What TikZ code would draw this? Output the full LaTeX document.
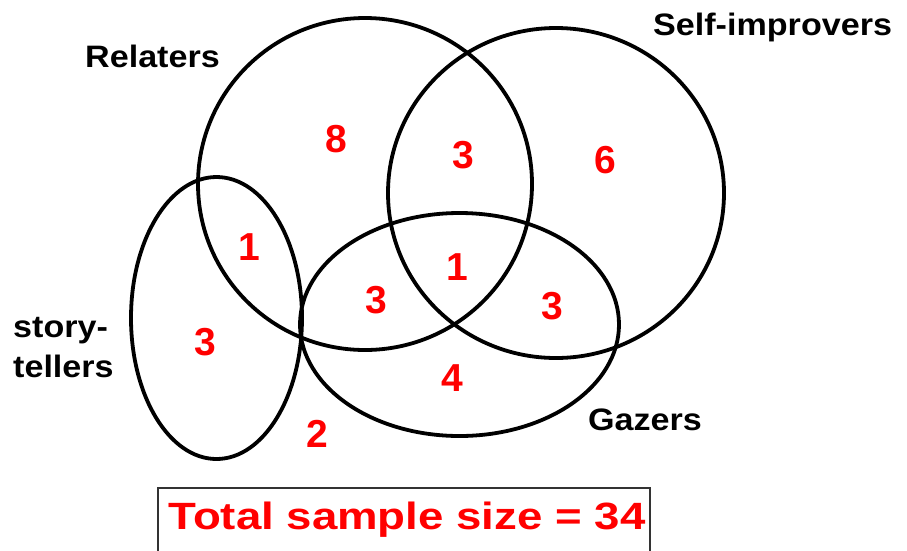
\documentclass[tikz,border=0pt]{standalone}
\usepackage{fontspec}
\setmainfont{Liberation Sans}
\newfontfamily\tagfont[FakeStretch=1.1]{Liberation Sans}
\newfontfamily\sumfont[FakeStretch=1.2]{Liberation Sans}
\usetikzlibrary{positioning,shapes.geometric}

\begin{document}
\begin{tikzpicture}[
x=1pt, y=-1pt,
ring/.style={draw, ellipse, line width=3.8pt, inner sep=0pt},
tag/.style={inner sep=0pt, font=\tagfont\bfseries\fontsize{31}{40}\selectfont},
count/.style={text=red, inner sep=0pt, font=\bfseries\fontsize{39}{39}\selectfont},
frame/.style={draw=black!80, line width=2pt, minimum width=492pt, minimum height=100pt}
]
\useasboundingbox (0,0) rectangle (907,550);
\clip (0,0) rectangle (907,550);
\node[ring, minimum width=334pt, minimum height=332pt] (relaters) at (365,184) {};
\node[ring, minimum width=336pt, minimum height=330pt] (selfimp) at (556,193) {};
\node[ring, minimum width=171pt, minimum height=282pt] (story) at (216.5,318) {};
\node[ring, minimum width=319pt, minimum height=223pt] (gazers) at (459.5,324.5) {};
\node[tag, anchor=base west] (lrelaters) at (85,67) {Relaters};
\node[tag, anchor=base west] (lselfimp) at (653,35) {Self-improvers};
\node[tag, anchor=north west, align=left] (lstory) at (13,317) {story-\\tellers};
\node[tag, anchor=base west] (lgazers) at (588,430) {Gazers};
\node[count] (n8) at (336,139) {8};
\node[count] (n3a) at (463,155) {3};
\node[count] (n6) at (605,160) {6};
\node[count] (n1a) at (249,247) {1};
\node[count] (n1b) at (457,267) {1};
\node[count] (n3b) at (376,300) {3};
\node[count] (n3c) at (552,306) {3};
\node[count] (n3d) at (205,342) {3};
\node[count] (n4) at (452,378) {4};
\node[count] (n2) at (317,434) {2};
\node[frame] (board) at (404,538) {};
\node[inner sep=0pt, text=red, font=\sumfont\bfseries\fontsize{38}{38}\selectfont] (total) at (407,520) {Total sample size = 34};
\end{tikzpicture}
\end{document}
